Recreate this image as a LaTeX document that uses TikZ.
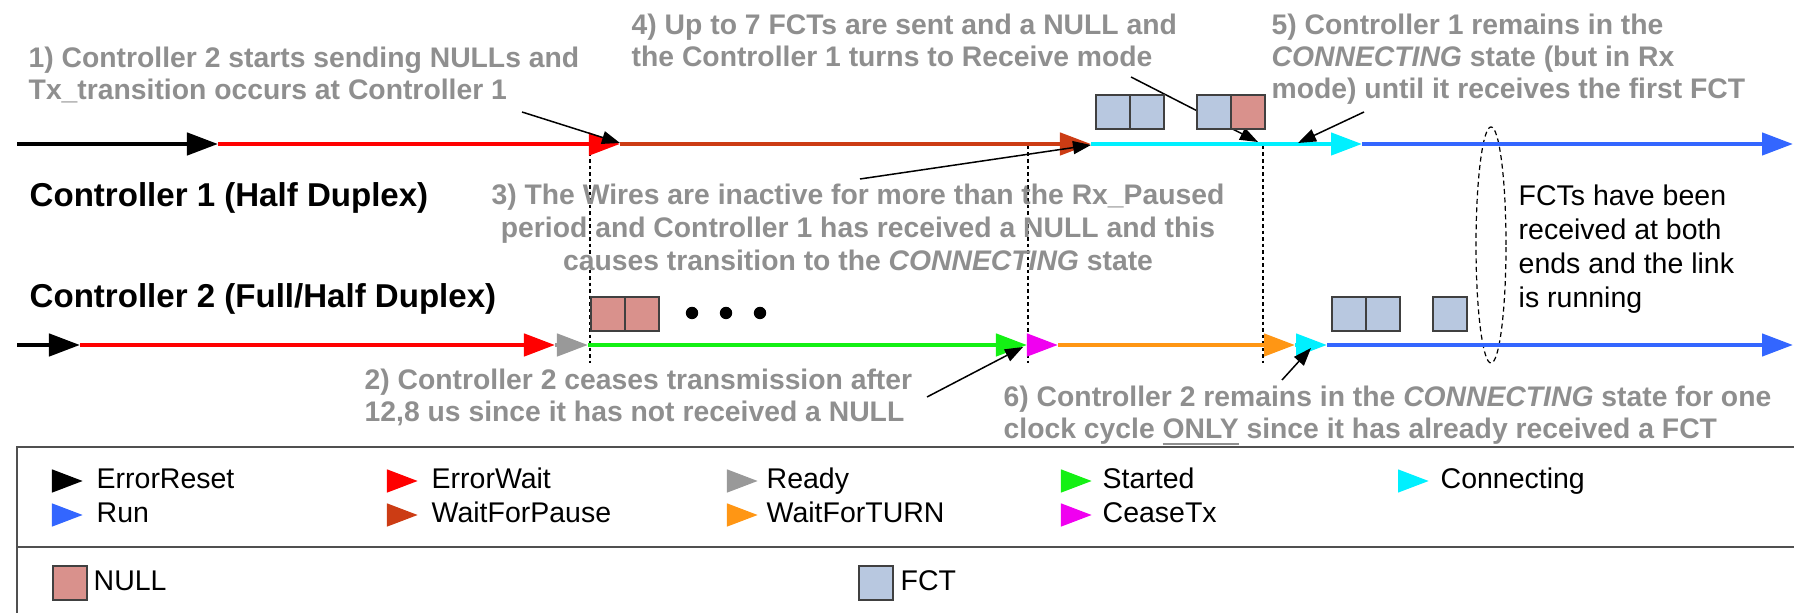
\documentclass[tikz,border=0pt]{standalone}
\usepackage{fontspec}
\setmainfont{Liberation Sans}
\usetikzlibrary{arrows.meta}

\definecolor{notegray}{RGB}{143,143,143}
\definecolor{errwait}{RGB}{255,0,0}
\definecolor{waitpause}{RGB}{204,60,20}
\definecolor{connecting}{RGB}{0,240,255}
\definecolor{runblue}{RGB}{51,102,255}
\definecolor{readygray}{RGB}{153,153,153}
\definecolor{started}{RGB}{20,240,20}
\definecolor{ceasetx}{RGB}{240,0,240}
\definecolor{waitturn}{RGB}{255,150,20}
\definecolor{fctfill}{RGB}{184,200,224}
\definecolor{nullfill}{RGB}{217,145,140}
\definecolor{boxedge}{RGB}{64,64,64}
\definecolor{frame}{RGB}{80,80,80}

\tikzset{
  seg/.style={line width=0.45mm, -{Triangle[length=3.1mm,width=2.2mm]}},
  pointer/.style={line width=0.15mm, -{Triangle[length=1.8mm,width=1.3mm]}},
  marker/.style={line width=0.12mm, dash pattern=on 0.35mm off 0.3mm},
  note/.style={inner sep=0pt, text=notegray, align=left, anchor=base west,
    font=\bfseries\fontsize{8.05}{9.1}\selectfont},
  title/.style={inner sep=0pt, anchor=base west,
    font=\bfseries\fontsize{9.4}{11}\selectfont},
  plain/.style={inner sep=0pt, align=left, anchor=base west,
    font=\fontsize{8.1}{9.75}\selectfont},
  fctbox/.style={draw=boxedge, line width=0.2mm, fill=fctfill, anchor=north west,
    minimum width=3.35mm, minimum height=3.4mm, inner sep=0pt},
  nullbox/.style={fctbox, fill=nullfill}
}

\begin{document}
\begin{tikzpicture}[x=0.01cm, y=-0.01cm]
\useasboundingbox (0,0) rectangle (1794,613);
\clip (0,0) rectangle (1794,613);

% Points on the Controller 1 line
\coordinate (c1a) at (17,144);
\coordinate (c1b) at (218,144);
\coordinate (c1c) at (620,144);
\coordinate (c1d) at (1091,144);
\coordinate (c1e) at (1362,144);
\coordinate (c1f) at (1793,144);

% Points on the Controller 2 line
\coordinate (c2a) at (17,345);
\coordinate (c2b) at (80,345);
\coordinate (c2c) at (555,345);
\coordinate (c2d) at (588,345);
\coordinate (c2e) at (1027,345);
\coordinate (c2f) at (1058,345);
\coordinate (c2g) at (1295,345);
\coordinate (c2h) at (1327,345);
\coordinate (c2i) at (1793,345);

% Drawing dashed markers
\draw [marker] (590,146) -- (590,363);
\draw [marker] (1028,146) -- (1028,363);
\draw [marker] (1263,146) -- (1263,363);
\draw [marker, dash pattern=on 0.5mm off 0.35mm] (1491,245) ellipse [x radius=1.5mm, y radius=11.8mm];

% Drawing segments of Controller 1
\draw [seg, black] (c1a) -- (c1b);
\draw [seg, errwait] (c1b) -- (c1c);
\draw [seg, waitpause] (c1c) -- (c1d);
\draw [seg, connecting] (c1d) -- (c1e);
\draw [seg, runblue] (c1e) -- (c1f);

% Drawing segments of Controller 2
\draw [seg, black] (c2a) -- (c2b);
\draw [seg, errwait] (c2b) -- (c2c);
\draw [seg, readygray] (c2c) -- (c2d);
\draw [seg, started] (c2d) -- (c2e);
\draw [seg, ceasetx] (c2e) -- (c2f);
\draw [seg, waitturn] (c2f) -- (c2g);
\draw [seg, connecting] (c2g) -- (c2h);
\draw [seg, runblue] (c2h) -- (c2i);

% Pointer ends
\coordinate (p1s) at (522,112);
\coordinate (p1e) at (620,143);
\coordinate (p2s) at (927,397);
\coordinate (p2e) at (1023,347);
\coordinate (p3s) at (860,179);
\coordinate (p3e) at (1091,145);
\coordinate (p4s) at (1131,77);
\coordinate (p4e) at (1258,142);
\coordinate (p5s) at (1364,112);
\coordinate (p5e) at (1298,143);
\coordinate (p6s) at (1282,380);
\coordinate (p6e) at (1311,348);

% Drawing pointers
\draw [pointer] (p1s) -- (p1e);
\draw [pointer] (p2s) -- (p2e);
\draw [pointer] (p3s) -- (p3e);
\draw [pointer] (p4s) -- (p4e);
\draw [pointer] (p5s) -- (p5e);
\draw [pointer] (p6s) -- (p6e);

% Marking packets sent by Controller 1
\node [fctbox] (fct1) at (1095,94) {};
\node [fctbox] (fct2) at (1129,94) {};
\node [fctbox] (fct3) at (1196,94) {};
\node [nullbox] (null3) at (1230,94) {};

% Marking packets sent by Controller 2
\node [nullbox] (null1) at (590,296) {};
\node [nullbox] (null2) at (624,296) {};
\fill (692,313) circle [radius=0.62mm];
\fill (726,313) circle [radius=0.62mm];
\fill (760,313) circle [radius=0.62mm];
\node [fctbox] (fct4) at (1331,296) {};
\node [fctbox] (fct5) at (1365,296) {};
\node [fctbox] (fct6) at (1432,296) {};

% Marking controller names
\node [title] (ctrlA) at (29,207) {Controller 1 (Half Duplex)};
\node [title] (ctrlB) at (29,308) {Controller 2 (Full/Half Duplex)};

% Marking notes (anchored at the baseline of their last line)
\node [note] (note1) at (28,100) {1) Controller 2 starts sending NULLs and\\Tx\_transition occurs at Controller 1};
\node [note] (note2) at (364,422) {2) Controller 2 ceases transmission after\\12,8 us since it has not received a NULL};
\node [note, align=center, anchor=base, font=\bfseries\fontsize{8.05}{9.4}\selectfont] (note3) at (858,271) {3) The Wires are inactive for more than the Rx\_Paused\\period and Controller 1 has received a NULL and this\\causes transition to the \textit{CONNECTING} state};
\node [note] (note4) at (631,67) {4) Up to 7 FCTs are sent and a NULL and\\the Controller 1 turns to Receive mode};
\node [note] (note5) at (1271,99) {5) Controller 1 remains in the\\\textit{CONNECTING} state (but in Rx\\mode) until it receives the first FCT};
\node [note] (note6) at (1003,439) {6) Controller 2 remains in the \textit{CONNECTING} state for one\\clock cycle \underline{ONLY} since it has already received a FCT};
\node [plain] (running) at (1518,308) {FCTs have been\\received at both\\ends and the link\\is running};

% Drawing legend frame
\draw [frame, line width=0.25mm] (17,447) rectangle (1810,630);
\draw [frame, line width=0.25mm] (17,547) -- (1810,547);

% Marking legend of states
\draw [seg, black] (52,481) -- (83,481);
\node [plain] (legA) at (96,489) {ErrorReset};
\draw [seg, errwait] (387,481) -- (418,481);
\node [plain] (legB) at (431,489) {ErrorWait};
\draw [seg, readygray] (727,481) -- (758,481);
\node [plain] (legC) at (766,489) {Ready};
\draw [seg, started] (1061,481) -- (1092,481);
\node [plain] (legD) at (1102,489) {Started};
\draw [seg, connecting] (1398,481) -- (1429,481);
\node [plain] (legE) at (1440,489) {Connecting};
\draw [seg, runblue] (52,515) -- (83,515);
\node [plain] (legF) at (96,523) {Run};
\draw [seg, waitpause] (387,515) -- (418,515);
\node [plain] (legG) at (431,523) {WaitForPause};
\draw [seg, waitturn] (727,515) -- (758,515);
\node [plain] (legH) at (766,523) {WaitForTURN};
\draw [seg, ceasetx] (1061,515) -- (1092,515);
\node [plain] (legI) at (1102,523) {CeaseTx};

% Marking legend of packets
\node [nullbox] (legNullBox) at (52,565) {};
\node [plain] (legNull) at (93,591) {NULL};
\node [fctbox] (legFctBox) at (858,565) {};
\node [plain] (legFct) at (900,591) {FCT};
\end{tikzpicture}
\end{document}
